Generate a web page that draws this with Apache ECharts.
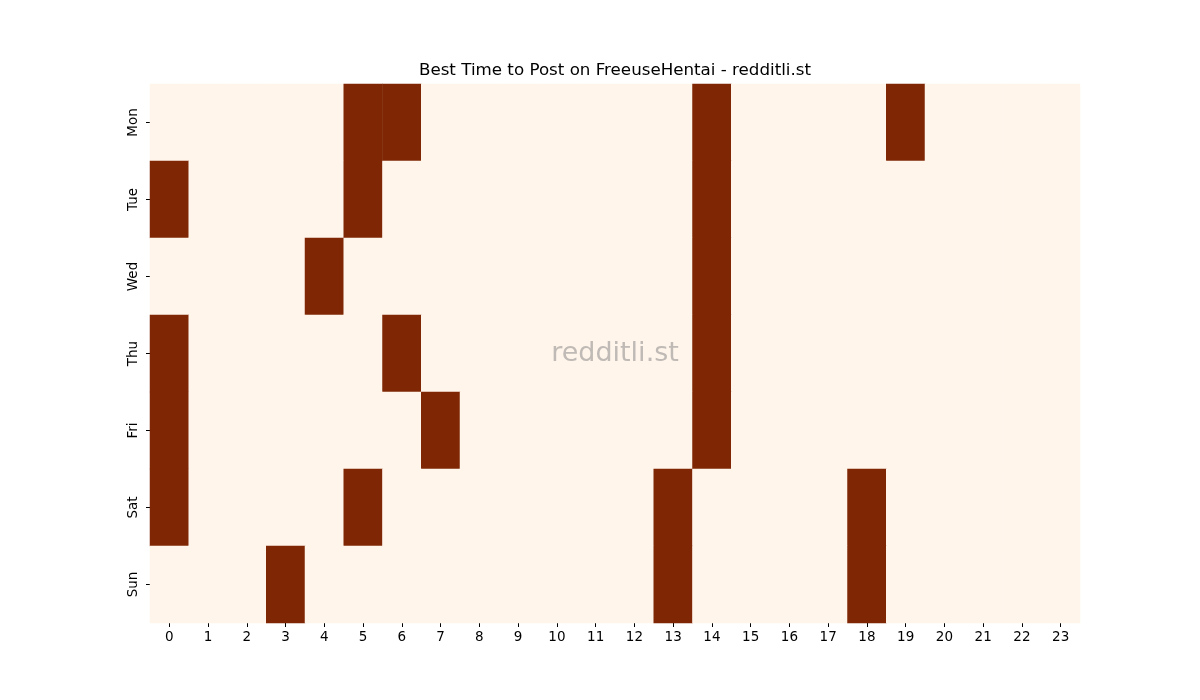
<!DOCTYPE html>
<html>
<head>
<meta charset="utf-8">
<script src="https://cdn.jsdelivr.net/npm/echarts@6/dist/echarts.min.js"></script>
<style>
  body { margin: 0; background: #fff; }
  #chart { width: 1200px; height: 700px; }
</style>
</head>
<body>
<div id="chart"></div>
<script>
  // hours on x, days on y (Mon on top)
  const hours = ['0','1','2','3','4','5','6','7','8','9','10','11','12','13','14','15','16','17','18','19','20','21','22','23'];
  const days = ['Mon', 'Tue', 'Wed', 'Thu', 'Fri', 'Sat', 'Sun'];

  // 1 = best time (dark), 0 = not
  const mon = [0,0,0,0,0,1,1,0,0,0,0,0,0,0,1,0,0,0,0,1,0,0,0,0];
  const tue = [1,0,0,0,0,1,0,0,0,0,0,0,0,0,1,0,0,0,0,0,0,0,0,0];
  const wed = [0,0,0,0,1,0,0,0,0,0,0,0,0,0,1,0,0,0,0,0,0,0,0,0];
  const thu = [1,0,0,0,0,0,1,0,0,0,0,0,0,0,1,0,0,0,0,0,0,0,0,0];
  const fri = [1,0,0,0,0,0,0,1,0,0,0,0,0,0,1,0,0,0,0,0,0,0,0,0];
  const sat = [1,0,0,0,0,1,0,0,0,0,0,0,0,1,0,0,0,0,1,0,0,0,0,0];
  const sun = [0,0,0,1,0,0,0,0,0,0,0,0,0,1,0,0,0,0,1,0,0,0,0,0];
  const rows = [mon, tue, wed, thu, fri, sat, sun];

  let cells = [];
  rows.forEach(function (row, d) {
    row.forEach(function (v, h) {
      cells.push([h, d, v]);
    });
  });

  let myChart = echarts.init(document.getElementById('chart'));
  let font = 'DejaVu Sans';
  let option = {
    backgroundColor: '#ffffff',
    animation: false,
    grid: { left: 150, right: 120, top: 84, bottom: 77 },
    xAxis: {
      type: 'category',
      data: hours,
      axisLine: { show: false },
      axisTick: { show: true, alignWithLabel: true, length: 4, lineStyle: { color: '#000' } },
      axisLabel: { fontFamily: font, fontSize: 13.5, color: '#000', margin: 7 },
      splitLine: { show: false }
    },
    yAxis: {
      type: 'category',
      data: days,
      inverse: true,
      axisLine: { show: false },
      axisTick: { show: true, alignWithLabel: true, length: 4, lineStyle: { color: '#000' } },
      axisLabel: { fontFamily: font, fontSize: 13.5, color: '#000', rotate: 90, margin: 10 },
      splitLine: { show: false }
    },
    visualMap: {
      show: false,
      min: 0,
      max: 1,
      dimension: 2,
      inRange: { color: ['#fff5eb', '#7f2704'] }
    },
    graphic: [{
      type: 'text',
      x: 615,
      y: 71,
      style: {
        text: 'Best Time to Post on FreeuseHentai - redditli.st',
        fontFamily: font,
        fontSize: 16.7,
        fill: '#000',
        textAlign: 'center',
        textVerticalAlign: 'middle'
      }
    }, {
      type: 'text',
      x: 615,
      y: 354,
      z: 100,
      style: {
        text: 'redditli.st',
        fontFamily: font,
        fontSize: 27,
        fill: 'rgba(128,128,128,0.5)',
        textAlign: 'center',
        textVerticalAlign: 'middle'
      }
    }],
    series: [{
      type: 'heatmap',
      data: cells,
      itemStyle: { borderWidth: 0 },
      emphasis: { disabled: true }
    }]
  };
  myChart.setOption(option);
</script>
</body>
</html>
